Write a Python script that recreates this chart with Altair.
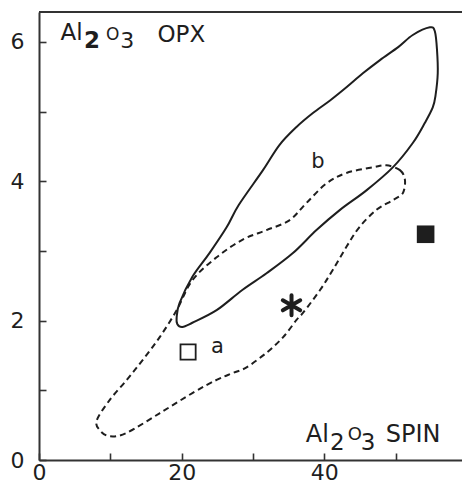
import altair as alt
import pandas as pd

# Solid envelope "b" (x = Al2O3 spinel, y = Al2O3 opx)
b_x = [54.8, 55.5, 55.8, 55.9, 55.6, 55.2, 54.1, 52.4, 49.6, 45.9, 42.2, 38.9, 35.6, 31.9,
       28.5, 24.9, 21.5, 20.1, 19.4, 19.3, 19.7, 21.5, 23.9, 26.3, 28.0, 31.4, 33.7, 36.1,
       38.4, 40.8, 43.1, 45.4, 47.8, 50.4, 52.4]
b_y = [6.21, 6.15, 5.88, 5.55, 5.24, 5.06, 4.84, 4.55, 4.20, 3.87, 3.59, 3.30, 2.97, 2.68,
       2.44, 2.15, 1.97, 1.91, 1.95, 2.05, 2.25, 2.63, 2.97, 3.34, 3.66, 4.16, 4.52, 4.78,
       4.98, 5.16, 5.35, 5.55, 5.74, 5.93, 6.10]

# Dashed envelope "a"
a_x = [48.7, 50.6, 51.3, 51.0, 49.6, 47.3, 44.9, 43.1, 41.2, 39.4, 37.0, 36.1, 34.2, 31.9,
       29.1, 27.2, 24.9, 21.5, 16.9, 12.3, 9.9, 8.5, 8.1, 9.9, 12.3, 14.5, 16.9, 19.3,
       21.5, 24.9, 28.5, 31.9, 35.1, 37.5, 40.3, 43.1, 46.8]
a_y = [4.23, 4.16, 4.02, 3.83, 3.73, 3.59, 3.34, 3.06, 2.73, 2.44, 2.11, 2.01, 1.76, 1.54,
       1.33, 1.25, 1.15, 0.96, 0.67, 0.39, 0.34, 0.43, 0.57, 0.86, 1.15, 1.43, 1.76, 2.15,
       2.58, 2.91, 3.16, 3.30, 3.44, 3.69, 3.97, 4.12, 4.20]

# Single samples
open_sq = (20.9, 1.55)
filled_sq = (54.2, 3.24)
star = (35.4, 2.22)

# Envelope labels
env_labels = ["a", "b"]
env_label_x = [25.0, 39.1]
env_label_y = [1.62, 4.28]

# Axis title pieces (Al2O3 with subscripts)
opx_text = ["Al", "2", "O", "3", "OPX"]
opx_x = [3.0, 6.3, 9.4, 11.4, 16.6]
opx_y = [6.03, 5.91, 6.03, 5.91, 6.00]
spin_text = ["Al", "2", "O", "3", "SPIN"]
spin_x = [37.4, 40.8, 43.3, 45.1, 48.6]
spin_y = [0.26, 0.14, 0.29, 0.14, 0.26]

x_ticks = [0, 10, 20, 30, 40, 50]
y_ticks = [0, 1, 2, 3, 4, 5, 6]
X_DOM = [0, 59.3]
Y_DOM = [0, 6.43]

INK = "#1e1e1e"
FONT = "DejaVu Sans"

b_df = pd.DataFrame({"x": b_x, "y": b_y, "i": range(len(b_x))})
a_df = pd.DataFrame({"x": a_x, "y": a_y, "i": range(len(a_x))})

xs = alt.Scale(domain=X_DOM, nice=False, zero=False)
ys = alt.Scale(domain=Y_DOM, nice=False, zero=False)

x_axis = alt.Axis(values=x_ticks, labelExpr="datum.value % 20 == 0 ? datum.label : ''",
                  title=None, labelPadding=9, labelFlush=False, labelOverlap=False,
                  labelAngle=0, labelBaseline="top", labelAlign="center")
y_axis = alt.Axis(values=y_ticks, labelExpr="datum.value % 2 == 0 ? datum.label : ''",
                  title=None, labelPadding=22, labelFlush=False, labelOverlap=False,
                  labelAlign="right", labelBaseline="middle")

X = alt.X("x:Q", scale=xs, axis=x_axis)
Y = alt.Y("y:Q", scale=ys, axis=y_axis)

solid = alt.Chart(b_df).mark_line(
    interpolate="cardinal-closed", color=INK, strokeWidth=2
).encode(x=X, y=Y, order="i:Q")

dashed = alt.Chart(a_df).mark_line(
    interpolate="cardinal-closed", color=INK, strokeWidth=2, strokeDash=[6, 4]
).encode(x=X, y=Y, order="i:Q")

osq = alt.Chart(pd.DataFrame({"x": [open_sq[0]], "y": [open_sq[1]]})).mark_point(
    shape="square", size=230, filled=False, color=INK, strokeWidth=1.8, opacity=1
).encode(x=X, y=Y)

fsq = alt.Chart(pd.DataFrame({"x": [filled_sq[0]], "y": [filled_sq[1]]})).mark_point(
    shape="square", size=310, filled=True, color=INK, opacity=1
).encode(x=X, y=Y)

ast = alt.Chart(pd.DataFrame({"x": [star[0]], "y": [star[1]]})).mark_point(
    shape="M0,-1L0,1M-0.87,-0.5L0.87,0.5M-0.87,0.5L0.87,-0.5",
    size=400, filled=False, color=INK, strokeWidth=4, strokeCap="round", opacity=1
).encode(x=X, y=Y)

lab_df = pd.DataFrame({"x": env_label_x, "y": env_label_y, "t": env_labels})
labs = alt.Chart(lab_df).mark_text(
    font=FONT, fontSize=21, color=INK, align="center", baseline="middle"
).encode(x=X, y=Y, text="t:N")

title_df = pd.DataFrame({
    "x": opx_x + spin_x,
    "y": opx_y + spin_y,
    "t": opx_text + spin_text,
    "fs": [23, 23, 17, 22, 23] + [24, 23, 18, 23, 24],
    "bold": [False, True, False, False, False] + [False] * 5,
})
titles = alt.Chart(title_df).transform_filter("!datum.bold").mark_text(
    font=FONT, color=INK, align="left", baseline="alphabetic"
).encode(
    x=X, y=Y, text="t:N",
    size=alt.Size("fs:Q", scale=None, legend=None),
)
titles_bold = alt.Chart(title_df).transform_filter("datum.bold").mark_text(
    font=FONT, color=INK, align="left", baseline="alphabetic", fontWeight="bold"
).encode(
    x=X, y=Y, text="t:N",
    size=alt.Size("fs:Q", scale=None, legend=None),
)

top_frame = alt.Chart(pd.DataFrame({"k": [0]})).mark_rule(
    color="#333", strokeWidth=2
).encode(y=alt.value(0))

chart = alt.layer(
    dashed, solid, osq, fsq, ast, labs, titles, titles_bold, top_frame
).properties(
    width=423, height=448,
    autosize=alt.AutoSizeParams(type="none"),
    padding={"left": 39, "top": 12, "right": 0, "bottom": 26},
    background="white",
).configure_view(
    stroke=None
).configure_axis(
    grid=False,
    domainColor="#333", domainWidth=2,
    tickColor="#333", tickWidth=1.6, tickSize={"expr": "-7"},
    labelFont=FONT, labelFontSize=22, labelColor=INK,
)

chart.save("out.html", embed_options={"renderer": "svg", "actions": False})
